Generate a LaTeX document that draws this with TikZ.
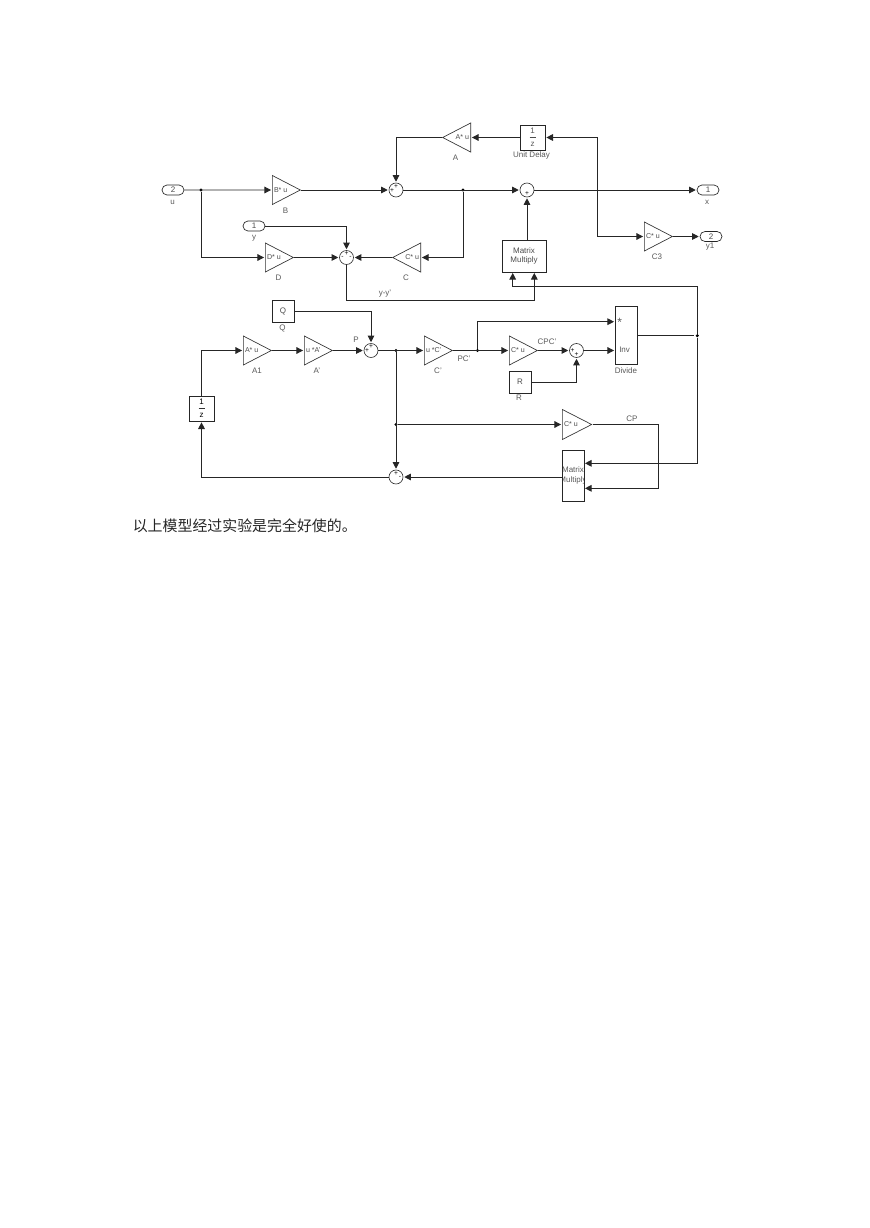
\documentclass[tikz,border=0pt]{standalone}
\usepackage{fontspec}
\setmainfont{Liberation Sans}
\newfontfamily\cjk{Noto Sans CJK SC}
\usetikzlibrary{
    arrows.meta,
    shapes.geometric,
    shapes.misc,
    calc
}
\tikzset{
    wire/.style={draw=black!85, line width=0.7pt, shorten >=0.7pt},
    gain/.style={draw=black!80, line width=0.5pt, isosceles triangle, isosceles triangle stretches,
        minimum width=21.75pt, minimum height=21pt, inner sep=0pt},
    gainl/.style={gain, shape border rotate=180},
    gaintxt/.style={lbl, anchor=west, xshift=1.3pt, text=black!70, font=\fontsize{5.3}{6}\selectfont},
    gaintxtl/.style={lbl, anchor=east, xshift=-1.3pt, text=black!70, font=\fontsize{5.3}{6}\selectfont},
    sumb/.style={draw=black!80, line width=0.5pt, circle, minimum size=10.5pt, inner sep=0pt},
    sign/.style={inner sep=0pt, font=\fontsize{5}{5}\selectfont},
    block/.style={draw=black!85, line width=0.6pt, rectangle, inner sep=0pt, align=center, font=\fontsize{6}{7}\selectfont, text=black!70},
    port/.style={draw=black!85, line width=0.5pt, rounded rectangle, minimum width=16.5pt, minimum height=7.5pt, inner sep=0pt, font=\fontsize{6}{7}\selectfont, text=black!70},
    lbl/.style={inner sep=0pt, font=\fontsize{6}{7}\selectfont, text=black!65},
    dot/.style={circle, fill=black, minimum size=2.5pt, inner sep=0pt}
}
\begin{document}
\begin{tikzpicture}[x=0.75pt, y=-0.75pt, >={Triangle[length=5pt,width=5pt]}]
    \useasboundingbox (0,0) rectangle (869,1228);
    % top row
    \node[port] (u) at (173,190) {2};
    \node[lbl] (ulbl) at (172.5,202) {u};
    \node[dot] (ju) at (201,190) {};
    \node[gain, anchor=lower side] (B) at (272,190) {};
    \node[gaintxt] at (B.lower side) {B* u};
    \node[lbl] (Blbl) at (285.5,211) {B};
    \node[sumb] (s1) at (396,190) {};
    \node[sign] at (396,186.5) {+};
    \node[sign] at (392,190.5) {+};
    \node[dot] (jx) at (463,190) {};
    \node[sumb] (s3) at (527,190) {};
    \node[sign] at (527,194) {+};
    \node[port] (x) at (708,190) {1};
    \node[lbl] (xlbl) at (707,202) {x};
    \node[gainl, anchor=lower side] (A) at (471,137.5) {};
    \node[gaintxtl] at (A.lower side) {A* u};
    \node[lbl] (Albl) at (455.5,158) {A};
    \node[block, minimum size=18.75pt] (delay) at (532.5,137.5) {};
    \node[lbl] at (532.5,131) {1};
    \draw[black!70, line width=0.4pt] (529.5,137.5) -- (535.5,137.5);
    \node[lbl] at (532.5,144.5) {z};
    \node[lbl] (delaylbl) at (531.5,155.5) {Unit Delay};
    \coordinate (jd) at (597.5,137.5);
    % second row
    \node[port] (y) at (254,226) {1};
    \node[lbl] (ylbl) at (254,238) {y};
    \node[gain, anchor=lower side] (D) at (265,257.5) {};
    \node[gaintxt] at (D.lower side) {D* u};
    \node[lbl] (Dlbl) at (278.5,278) {D};
    \node[sumb] (s2) at (346.5,257.5) {};
    \node[sign] at (346.5,254) {+};
    \node[sign] at (342.5,257.5) {-};
    \node[sign] at (350.5,257.5) {-};
    \node[gainl, anchor=lower side] (C) at (421,257.5) {};
    \node[gaintxtl] at (C.lower side) {C* u};
    \node[lbl] (Clbl) at (406,278) {C};
    \node[block, minimum width=33pt, minimum height=24pt] (mm1) at (524,256) {Matrix\\Multiply};
    \node[gain, anchor=lower side] (C3) at (644,236.5) {};
    \node[gaintxt] at (C3.lower side) {C* u};
    \node[lbl] (C3lbl) at (657,257) {C3};
    \node[port] (y1) at (711,236.5) {2};
    \node[lbl] (y1lbl) at (710,247) {y1};
    \node[lbl] (yylbl) at (385,294) {y-y'};
    % kalman gain row
    \node[block, minimum size=16.5pt] (Q) at (283,311) {Q};
    \node[lbl] (Qlbl) at (282.5,328) {Q};
    \node[gain, anchor=lower side] (A1) at (243,350.5) {};
    \node[gaintxt] at (A1.lower side) {A* u};
    \node[lbl] (A1lbl) at (257,371) {A1};
    \node[gain, anchor=lower side] (At) at (304,350.5) {};
    \node[gaintxt] at (At.lower side) {u *A'};
    \node[lbl] (Atlbl) at (317,371) {A'};
    \node[lbl] (Plbl) at (356,340) {P};
    \node[sumb] (s4) at (371,350.5) {};
    \node[sign] at (371,347) {+};
    \node[sign] at (367,350.5) {+};
    \node[dot] (jp) at (396,350.5) {};
    \node[gain, anchor=lower side] (Ct) at (424,350.5) {};
    \node[gaintxt] at (Ct.lower side) {u *C'};
    \node[lbl] (Ctlbl) at (438,371) {C'};
    \node[lbl] (PClbl) at (464,359) {PC'};
    \node[dot] (jpc) at (477.5,350.5) {};
    \node[gain, anchor=lower side] (CPC) at (509,350.5) {};
    \node[gaintxt] at (CPC.lower side) {C* u};
    \node[lbl] (CPClbl) at (547,341.5) {CPC'};
    \node[sumb] (s6) at (576.5,350.5) {};
    \node[sign] at (572.5,350.5) {+};
    \node[sign] at (576.5,354.5) {+};
    \node[block, minimum size=16.5pt] (R) at (520,382) {R};
    \node[lbl] (Rlbl) at (519,398) {R};
    \node[block, minimum width=16.5pt, minimum height=43.5pt] (div) at (626,335) {};
    \node[lbl, anchor=west, font=\fontsize{9}{9}\selectfont] at (617,322.5) {*};
    \node[lbl, anchor=west] at (619,350) {Inv};
    \node[lbl] (divlbl) at (626,370.5) {Divide};
    \node[dot] (jk) at (697.3,335.7) {};
    \node[block, minimum size=18.75pt] (delay2) at (201.5,408.5) {};
    \node[lbl, text=black] at (201.5,402) {1};
    \draw[black!80, line width=0.4pt] (198.5,408.5) -- (204.5,408.5);
    \node[lbl, text=black] at (201.5,415.5) {z};
    \node[dot] (jq) at (396,424.5) {};
    \node[gain, anchor=lower side, minimum width=22.5pt, minimum height=22pt] (CP) at (562,424.5) {};
    \node[gaintxt] at (CP.lower side) {C* u};
    \node[lbl] (CPlbl) at (632,418.5) {CP};
    \node[block, minimum width=16.5pt, minimum height=38.25pt,
        path picture={\node[lbl] at (path picture bounding box.center) {\shortstack{Matrix\\Multiply}};}] (mm2) at (573,475.5) {};
    \node[sumb] (s5) at (396,477) {};
    \node[sign] at (396,473.5) {+};
    \node[sign] at (400,477) {-};
    % port coordinates
    \coordinate (mm1a) at (512.7,272);
    \coordinate (mm1b) at (534.3,272);
    \coordinate (yybend) at (534.3,300.5);
    \coordinate (kbend) at (697.3,286.3);
    \coordinate (diva) at (615,321.7);
    \coordinate (divb) at (615,350.5);
    \coordinate (diveout) at (637,335.7);
    \coordinate (mm2a) at (584,463.3);
    \coordinate (mm2b) at (584,488.3);
    \coordinate (cpbend) at (658.7,424.5);
    % connectors
    \draw[wire,->] (u) -- (B.lower side);
    \draw[wire,->] (B.apex) -- (s1);
    \draw[wire,->] (A.apex) -| (s1);
    \draw[wire,->] (s1) -- (s3);
    \draw[wire,->] (s3) -- (x);
    \draw[wire,->] (delay) -- (A.lower side);
    \draw[wire,->] (jd) -- (delay);
    \draw[wire,->] (jd) |- (C3.lower side);
    \draw[wire,->] (C3.apex) -- (y1);
    \draw[wire,->] (ju) |- (D.lower side);
    \draw[wire,->] (D.apex) -- (s2);
    \draw[wire,->] (y) -| (s2);
    \draw[wire,->] (jx) |- (C.lower side);
    \draw[wire,->] (C.apex) -- (s2);
    \draw[wire,->] (s3 |- mm1.north) -- (s3);
    \draw[wire,->] (s2) |- (yybend) -- (mm1b);
    \draw[wire,->] (jk) -- (kbend) -| (mm1a);
    \draw[wire,->] (Q) -| (s4);
    \draw[wire,->] (delay2) |- (A1.lower side);
    \draw[wire,->] (A1.apex) -- (At.lower side);
    \draw[wire,->] (At.apex) -- (s4);
    \draw[wire,->] (s4) -- (Ct.lower side);
    \draw[wire,->] (Ct.apex) -- (CPC.lower side);
    \draw[wire,->] (CPC.apex) -- (s6);
    \draw[wire,->] (R) -| (s6);
    \draw[wire,->] (s6) -- (divb);
    \draw[wire,->] (jpc) |- (diva);
    \draw[wire] (diveout) -- (jk);
    \draw[wire,->] (jk) |- (mm2a);
    \draw[wire,->] (jp) -- (s5);
    \draw[wire,->] (jq) -- (CP.lower side);
    \draw[wire,->] (CP.apex) -- (cpbend) |- (mm2b);
    \draw[wire,->] (mm2.west |- s5) -- (s5);
    \draw[wire,->] (s5) -| (delay2);
    % caption
    \node[inner sep=0pt, anchor=west, font=\cjk\fontsize{11.2}{12}\selectfont, text=black!85] (cap) at (132.5,526) {以上模型经过实验是完全好使的。};
\end{tikzpicture}
\end{document}
